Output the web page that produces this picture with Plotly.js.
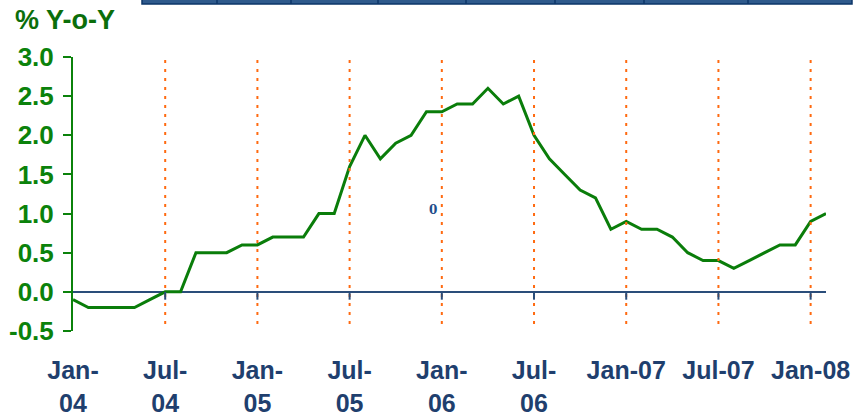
<!DOCTYPE html>
<html>
<head>
<meta charset="utf-8">
<script src="https://cdn.plot.ly/plotly-3.0.1.min.js"></script>
<style>html,body{margin:0;padding:0;background:#fff;}#chart{width:854px;height:414px;}</style>
</head>
<body>
<div id="chart"></div>
<script>
var months = [
  '2004-01','2004-02','2004-03','2004-04','2004-05','2004-06','2004-07','2004-08','2004-09','2004-10','2004-11','2004-12',
  '2005-01','2005-02','2005-03','2005-04','2005-05','2005-06','2005-07','2005-08','2005-09','2005-10','2005-11','2005-12',
  '2006-01','2006-02','2006-03','2006-04','2006-05','2006-06','2006-07','2006-08','2006-09','2006-10','2006-11','2006-12',
  '2007-01','2007-02','2007-03','2007-04','2007-05','2007-06','2007-07','2007-08','2007-09','2007-10','2007-11','2007-12',
  '2008-01','2008-02'
];
var yoyValues = [
  -0.1,-0.2,-0.2,-0.2,-0.2,-0.1, 0.0, 0.0, 0.5, 0.5, 0.5, 0.6,
   0.6, 0.7, 0.7, 0.7, 1.0, 1.0, 1.6, 2.0, 1.7, 1.9, 2.0, 2.3,
   2.3, 2.4, 2.4, 2.6, 2.4, 2.5, 2.0, 1.7, 1.5, 1.3, 1.2, 0.8,
   0.9, 0.8, 0.8, 0.7, 0.5, 0.4, 0.4, 0.3, 0.4, 0.5, 0.6, 0.6,
   0.9, 1.0
];
var tickMonths = ['2004-01','2004-07','2005-01','2005-07','2006-01','2006-07','2007-01','2007-07','2008-01'];
var tickLabels = ['Jan-<br>04','Jul-<br>04','Jan-<br>05','Jul-<br>05','Jan-<br>06','Jul-<br>06','Jan-07','Jul-07','Jan-08'];
var yTicks = [-0.5, 0.0, 0.5, 1.0, 1.5, 2.0, 2.5, 3.0];
var yTickLabels = ['-0.5','0.0','0.5','1.0','1.5','2.0','2.5','3.0'];
var axisTitle = '% Y-o-Y';
var noteText = '0';

var W = 854, H = 414;
var M = {l: 73, r: 28, t: 57, b: 83};
var pw = W - M.l - M.r, ph = H - M.t - M.b;
function px(x){ return (x - M.l) / pw; }
function py(y){ return (H - M.b - y) / ph; }

var green = '#0b820b';
var navy = '#1f3f6e';
var shapes = [];

// orange dotted vertical lines (all ticks except first) + small ticks on the zero line
tickMonths.slice(1).forEach(function(m){
  var i = months.indexOf(m);
  shapes.push({type:'line', xref:'x', yref:'y', x0:i, x1:i, y0:-0.41, y1:3.0,
    line:{color:'#ff6a10', width:2, dash:'3px,6px'}, layer:'above'});
  shapes.push({type:'line', xref:'x', yref:'y', x0:i, x1:i, y0:0, y1:-0.1,
    line:{color:'#2a4d7a', width:2}, layer:'above'});
});

// cropped table strip at top
shapes.push({type:'rect', xref:'paper', yref:'paper', x0:px(142), x1:px(852), y0:py(4), y1:py(-2),
  fillcolor:'#2f5a8c', line:{color:'#0d3668', width:1.5}});
[217, 291, 378, 466, 555, 644, 748].forEach(function(xp){
  shapes.push({type:'line', xref:'paper', yref:'paper', x0:px(xp), x1:px(xp), y0:py(4), y1:py(-2),
    line:{color:'#0d3668', width:1.5}});
});

var trace = {
  x: months.map(function(m, i){ return i; }),
  y: yoyValues,
  type: 'scatter',
  mode: 'lines',
  line: {color: '#0a7d0a', width: 3},
  hoverinfo: 'skip'
};

var layout = {
  width: W, height: H,
  margin: M,
  paper_bgcolor: '#ffffff',
  plot_bgcolor: '#ffffff',
  showlegend: false,
  title: {text: axisTitle, x: 15/W, xanchor: 'left', xref: 'container',
    y: 1 - 20/H, yanchor: 'middle', yref: 'container',
    font: {family: 'Liberation Sans, Arial, sans-serif', size: 27, weight: 'bold', color: '#0b6e0b'}},
  xaxis: {
    type: 'linear',
    range: [0, months.length - 1],
    tickmode: 'array',
    tickvals: tickMonths.map(function(m){ return months.indexOf(m); }),
    ticktext: tickLabels,
    showgrid: false, zeroline: false, showline: false, ticks: '',
    ticklabelstandoff: 22,
    tickfont: {family: 'Liberation Sans, Arial, sans-serif', size: 25, weight: 'bold', color: navy}
  },
  yaxis: {
    range: [-0.5, 3.0],
    tickmode: 'array',
    tickvals: yTicks,
    ticktext: yTickLabels,
    showgrid: false,
    zeroline: true, zerolinecolor: '#2a4d7a', zerolinewidth: 2,
    showline: true, linecolor: green, linewidth: 2,
    ticks: 'outside', ticklen: 8, tickwidth: 2, tickcolor: green,
    ticklabelstandoff: 4,
    tickfont: {family: 'Liberation Sans, Arial, sans-serif', size: 26, weight: 'bold', color: green}
  },
  shapes: shapes,
  annotations: [{
    text: noteText, xref: 'x', yref: 'y', x: 23.4, y: 1.04, showarrow: false,
    font: {family: 'DejaVu Serif, serif', size: 12, weight: 'bold', color: '#1f4e8c'}
  }]
};

Plotly.newPlot('chart', [trace], layout, {displayModeBar: false, staticPlot: true});
</script>
</body>
</html>
